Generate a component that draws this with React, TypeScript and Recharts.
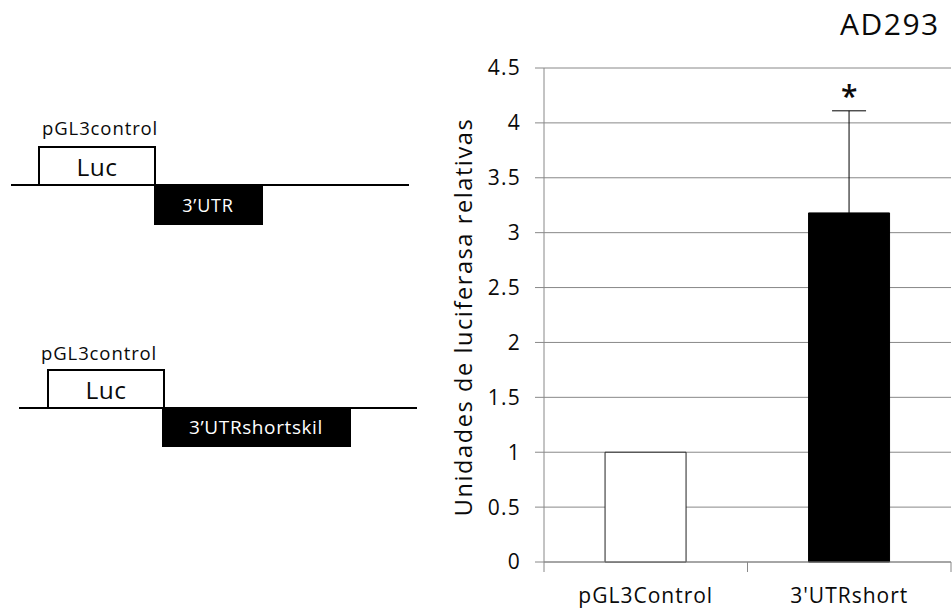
import React from 'react';
import {
  ComposedChart,
  Bar,
  Line,
  XAxis,
  YAxis,
  CartesianGrid,
  ErrorBar,
  Cell,
  LabelList,
  Label,
} from 'recharts';

const categories = ['pGL3Control', "3'UTRshort"];
const means = [1, 3.18];
const errors: (number | null)[] = [null, 0.93];
const significance = ['', '*'];
const barFills = ['#ffffff', '#000000'];
const barStrokes = ['#222222', '#000000'];
const yTicks = [0, 0.5, 1, 1.5, 2, 2.5, 3, 3.5, 4, 4.5];

const title = 'AD293';
const yLabel = 'Unidades de luciferasa relativas';

const data = categories.map((name, i) => ({
  name,
  value: means[i],
  err: errors[i] == null ? undefined : errors[i],
  top: errors[i] == null ? null : means[i] + (errors[i] as number),
  sig: significance[i],
}));

const FONT = '"Open Sans", "Noto Sans", sans-serif';
const GRID = '#888888';
const TEXT = '#0a0a0a';

const XTick = (props: any) => {
  const { x, y, payload, index, width } = props;
  const half =
    payload && typeof payload.offset === 'number' && payload.offset > 0
      ? payload.offset
      : width / categories.length / 2;
  const isLast = index === categories.length - 1;
  return (
    <g>
      <line x1={x - half} x2={x - half} y1={y - 10} y2={y} stroke={GRID} strokeWidth={1} />
      {isLast && (
        <line x1={x + half} x2={x + half} y1={y - 10} y2={y} stroke={GRID} strokeWidth={1} />
      )}
      <text
        x={x}
        y={y + 31}
        textAnchor="middle"
        fontFamily={FONT}
        fontSize={21}
        letterSpacing={1}
        fill={TEXT}
      >
        {payload.value}
      </text>
    </g>
  );
};

const YLabel = (props: any) => {
  const { viewBox } = props;
  const cx = viewBox.x + 19;
  const cy = viewBox.y + viewBox.height / 2 + 2;
  return (
    <text
      x={cx}
      y={cy}
      transform={`rotate(-90, ${cx}, ${cy})`}
      textAnchor="middle"
      dominantBaseline="central"
      fontFamily={FONT}
      fontSize={23.5}
      letterSpacing={1.6}
      fill={TEXT}
    >
      {yLabel}
    </text>
  );
};

const Diagram = () => (
  <svg
    width={952}
    height={610}
    style={{ position: 'absolute', left: 0, top: 0, pointerEvents: 'none' }}
  >
    <text x={840} y={35} fontFamily={FONT} fontSize={30} letterSpacing={1.5} fill={TEXT}>
      {title}
    </text>

    {/* construct 1 */}
    <text x={42} y={135} fontFamily={FONT} fontSize={18.5} letterSpacing={0.9} fill={TEXT}>
      pGL3control
    </text>
    <polyline
      points="39,185 39,147 155,147 155,185"
      fill="#fff"
      stroke="#000"
      strokeWidth={2}
    />
    <text x={97} y={176} textAnchor="middle" fontFamily={FONT} fontSize={24.5} letterSpacing={0.5} fill={TEXT}>
      Luc
    </text>
    <line x1={11} x2={409} y1={185} y2={185} stroke="#000" strokeWidth={2} />
    <rect x={154} y={184} width={109} height={41} fill="#000" />
    <text x={208} y={212} textAnchor="middle" fontFamily={FONT} fontSize={18} letterSpacing={0.8} fill="#fff">
      3’UTR
    </text>

    {/* construct 2 */}
    <text x={41} y={360} fontFamily={FONT} fontSize={18.5} letterSpacing={0.9} fill={TEXT}>
      pGL3control
    </text>
    <polyline
      points="48,408 48,370 164,370 164,408"
      fill="#fff"
      stroke="#000"
      strokeWidth={2}
    />
    <text x={106} y={399} textAnchor="middle" fontFamily={FONT} fontSize={24.5} letterSpacing={0.5} fill={TEXT}>
      Luc
    </text>
    <line x1={19} x2={417} y1={408} y2={408} stroke="#000" strokeWidth={2} />
    <rect x={162} y={407} width={189} height={40} fill="#000" />
    <text x={256} y={434} textAnchor="middle" fontFamily={FONT} fontSize={19} letterSpacing={0.6} fill="#fff">
      3’UTRshortskil
    </text>
  </svg>
);

export default function App() {
  return (
    <div style={{ position: 'absolute', left: 0, top: 0, width: 952, height: 610, background: '#fff' }}>
      <ComposedChart
        width={952}
        height={610}
        data={data}
        margin={{ top: 68, right: 1, bottom: 0, left: 444 }}
        barCategoryGap="30%"
      >
        <CartesianGrid vertical={false} stroke={GRID} strokeWidth={1} />
        <XAxis
          dataKey="name"
          height={48}
          axisLine={{ stroke: GRID }}
          tickLine={false}
          tickSize={10}
          tickMargin={0}
          tick={<XTick />}
          interval={0}
        />
        <YAxis
          width={100}
          domain={[0, 4.5]}
          ticks={yTicks}
          interval={0}
          axisLine={{ stroke: GRID }}
          tickLine={{ stroke: GRID }}
          tickSize={9}
          tickMargin={14}
          tick={{ fontFamily: FONT, fontSize: 21, fill: TEXT, letterSpacing: 1.2 }}
        >
          <Label content={<YLabel />} />
        </YAxis>
        <Bar dataKey="value" isAnimationActive={false} strokeWidth={1}>
          {data.map((d, i) => (
            <Cell key={d.name} fill={barFills[i]} stroke={barStrokes[i]} />
          ))}
          <ErrorBar dataKey="err" width={17} stroke="#000" strokeWidth={1} direction="y" />
        </Bar>
        <Line
          dataKey="top"
          stroke="none"
          dot={false}
          activeDot={false}
          isAnimationActive={false}
          legendType="none"
        >
          <LabelList
            dataKey="sig"
            position="top"
            offset={4}
            fontFamily={FONT}
            fontSize={30}
            fontWeight={600}
            fill={TEXT}
          />
        </Line>
      </ComposedChart>
      <Diagram />
    </div>
  );
}
